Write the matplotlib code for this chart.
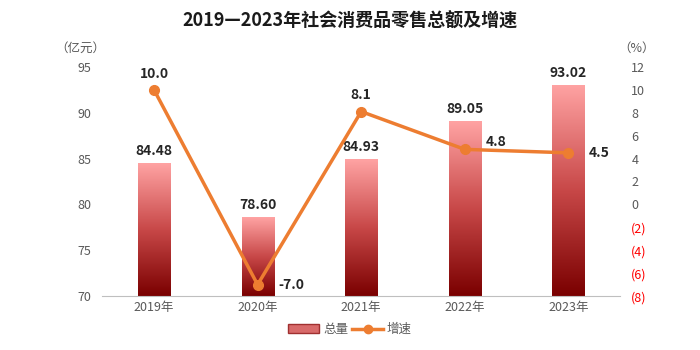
import matplotlib
matplotlib.use("Agg")
import matplotlib.pyplot as plt
import numpy as np
from matplotlib.colors import LinearSegmentedColormap
from matplotlib.lines import Line2D
from matplotlib.patches import Patch

plt.rcParams["font.family"] = ["Noto Sans CJK SC", "DejaVu Sans"]

YEARS = ["2019年", "2020年", "2021年", "2022年", "2023年"]
TOTAL = [84.48, 78.60, 84.93, 89.05, 93.02]
GROWTH = [10.0, -7.0, 8.1, 4.8, 4.5]
TOTAL_LABELS = ["84.48", "78.60", "84.93", "89.05", "93.02"]
GROWTH_LABELS = ["10.0", "-7.0", "8.1", "4.8", "4.5"]
GROWTH_LABEL_POS = ["above", "right", "above", "upright", "right"]

ORANGE = "#ED7D31"
GRAY = "#595959"
bar_cmap = LinearSegmentedColormap.from_list("bar", ["#7A0000", "#C84848", "#FFA3A3"])

fig = plt.figure(figsize=(7, 3.5), dpi=100)
ax = fig.add_axes([0.146, 0.154, 0.74, 0.655])
ax2 = ax.twinx()

x = np.arange(len(YEARS))
ymin, ymax = 70, 95
bars = ax.bar(x, TOTAL, width=0.31, bottom=0, color="none", edgecolor="none", zorder=2)
grad = np.linspace(0, 1, 256).reshape(-1, 1)
for b in bars:
    x0, w, h = b.get_x(), b.get_width(), b.get_height()
    im = ax.imshow(grad, cmap=bar_cmap, origin="lower", aspect="auto",
                   extent=[x0, x0 + w, ymin, h], zorder=2)
    im.set_clip_path(b)
for xi, v, lab in zip(x, TOTAL, TOTAL_LABELS):
    ax.text(xi, v + 0.6, lab, ha="center", va="bottom", fontsize=10,
            fontweight="bold", color="#262626", zorder=5)

ax.set_xlim(-0.5, len(YEARS) - 0.5)
ax.set_ylim(ymin, ymax)
ax.set_yticks(range(70, 96, 5))
ax.set_xticks(x)
ax.set_xticklabels(YEARS)
ax.tick_params(axis="both", length=0, colors=GRAY, labelsize=9)
ax.tick_params(axis="y", pad=8)
for s in ["top", "left", "right"]:
    ax.spines[s].set_visible(False)
ax.spines["bottom"].set_color("#BFBFBF")

ax2.plot(x, GROWTH, color=ORANGE, linewidth=2.5, marker="o", markersize=7, zorder=4)
for xi, v, lab, pos in zip(x, GROWTH, GROWTH_LABELS, GROWTH_LABEL_POS):
    if pos == "above":
        ax2.text(xi, v + 0.8, lab, ha="center", va="bottom", fontsize=10,
                 fontweight="bold", color="#262626")
    elif pos == "upright":
        ax2.text(xi + 0.2, v + 0.65, lab, ha="left", va="center", fontsize=10,
                 fontweight="bold", color="#262626")
    else:
        ax2.text(xi + 0.2, v, lab, ha="left", va="center", fontsize=10,
                 fontweight="bold", color="#262626")
ax2.set_ylim(-8, 12)
ticks2 = list(range(-8, 13, 2))
ax2.set_yticks(ticks2)
ax2.set_yticklabels([f"({-t})" if t < 0 else str(t) for t in ticks2])
for t, lbl in zip(ticks2, ax2.get_yticklabels()):
    lbl.set_color("red" if t < 0 else GRAY)
ax2.tick_params(axis="y", length=0, labelsize=9, pad=8)
for s in ["top", "left", "right", "bottom"]:
    ax2.spines[s].set_visible(False)

fig.text(0.5, 0.94, "2019—2023年社会消费品零售总额及增速", ha="center", va="center",
         fontsize=13, fontweight="bold", color="#1a1a1a")
fig.text(0.115, 0.862, "（亿元）", ha="center", va="center", fontsize=9, color=GRAY)
fig.text(0.91, 0.862, "（%）", ha="center", va="center", fontsize=9, color=GRAY)

handles = [Patch(facecolor="#D86A6A", edgecolor="#A03030"),
           Line2D([0], [0], color=ORANGE, linewidth=2.5, marker="o", markersize=6)]
fig.legend(handles, ["总量", "增速"], loc="center", bbox_to_anchor=(0.5, 0.058),
           ncol=2, frameon=False, fontsize=9, labelcolor=GRAY,
           handlelength=2.5, columnspacing=0.3, handletextpad=0.3)

fig.savefig("out.png", dpi=100)
